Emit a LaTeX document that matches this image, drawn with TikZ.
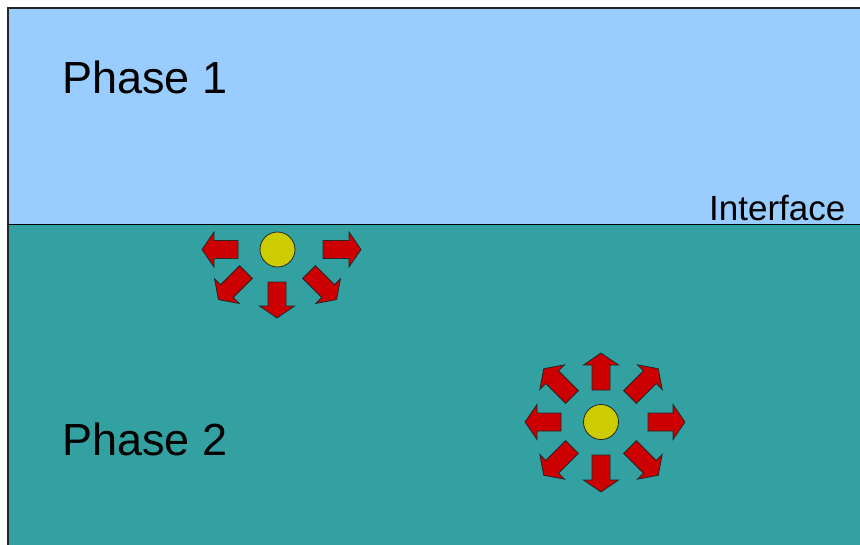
\documentclass[tikz,border=0pt]{standalone}
\usepackage{fontspec}
\setmainfont{Liberation Sans}
\definecolor{phaseone}{HTML}{99CCFF}
\definecolor{phasetwo}{HTML}{33A1A1}
\definecolor{arrowred}{HTML}{CC0000}
\definecolor{dotyellow}{HTML}{CCCC00}
\newcommand{\blockarr}[3]{\draw[arrowst, shift={(#1)}, rotate=#2] (0,-9) -- (#3-12,-9) -- (#3-12,-17.5) -- (#3,0) -- (#3-12,17.5) -- (#3-12,9) -- (0,9) -- cycle;}
\begin{document}
\begin{tikzpicture}[x=1pt,y=-1pt,
  arrowst/.style={fill=arrowred, draw=black!85, line width=0.8pt, line join=miter},
  dot/.style={circle, draw=black!85, line width=0.8pt, fill=dotyellow, minimum size=35pt, inner sep=0pt},
  label/.style={anchor=base west, inner sep=0pt, text=black}]
\useasboundingbox (0,0) rectangle (860,544);
\fill[phaseone] (8,8) rectangle (862,224);
\fill[phasetwo] (8,224) rectangle (862,546);
\draw[line width=1.5pt, black!85] (8,548) -- (8,8) -- (864,8);
\draw[line width=1pt, black] (8,224) -- (864,224);
\node[label, font=\fontsize{45}{45}\selectfont] (t1) at (62,93) {Phase 1};
\node[label, font=\fontsize{45}{45}\selectfont] (t2) at (62,455) {Phase 2};
\node[label, font=\fontsize{35}{35}\selectfont] (ti) at (709,220) {Interface};
% particle at the interface
\node[dot] (p1) at (277.5,249.5) {};
\blockarr{238,249.5}{180}{36}
\blockarr{323,249.5}{0}{38}
\blockarr{277,282}{270}{36}
\blockarr{246,272}{225}{39}
\blockarr{309,272}{-45}{39}
% particle in the bulk
\node[dot] (p2) at (601,422) {};
\blockarr{601,390}{90}{37}
\blockarr{601,455}{270}{37}
\blockarr{561,422}{180}{36}
\blockarr{648,422}{0}{37}
\blockarr{572,397}{135}{40}
\blockarr{630,397}{45}{40}
\blockarr{572,447}{225}{40}
\blockarr{630,447}{-45}{40}
\end{tikzpicture}
\end{document}
